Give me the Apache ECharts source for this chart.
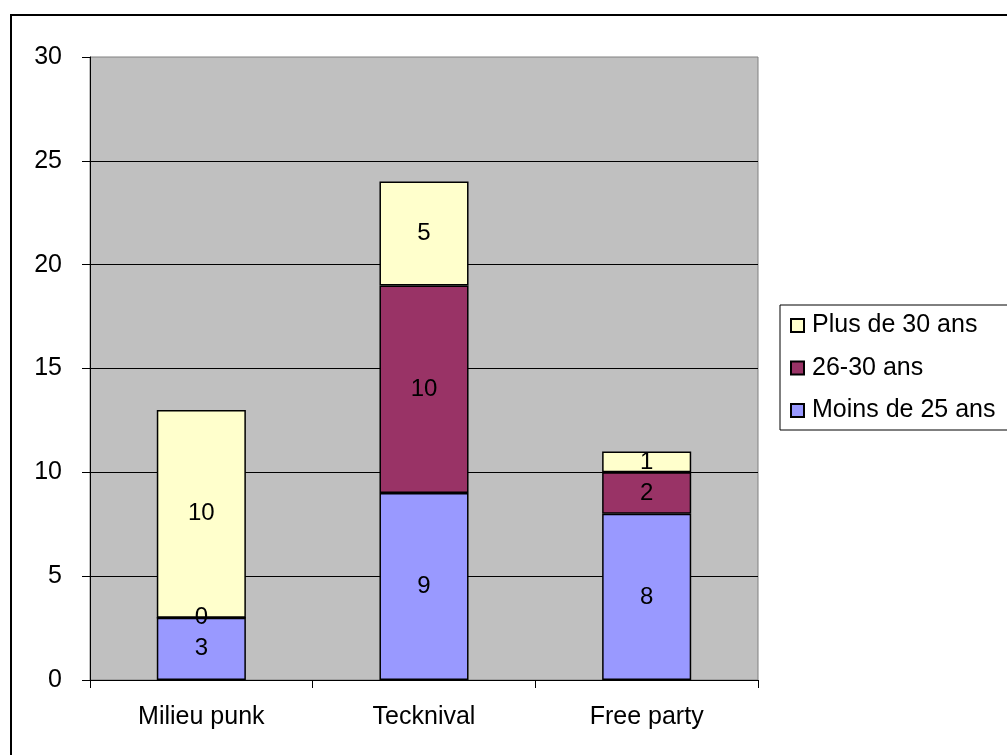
<!DOCTYPE html>
<html>
<head>
<meta charset="utf-8">
<script src="https://cdn.jsdelivr.net/npm/echarts@6/dist/echarts.min.js"></script>
<style>
  body { margin: 0; background: #fff; overflow: hidden; }
  #frame {
    position: absolute; left: 10px; top: 14px;
    width: 1100px; height: 900px;
    border: 2px solid #000;
  }
  #main { position: absolute; left: 0; top: 0; width: 1007px; height: 755px; }
</style>
</head>
<body>
<div id="frame"></div>
<div id="main"></div>
<script>
  var categories = ['Milieu punk', 'Tecknival', 'Free party'];
  var moins25 = [3, 9, 8];
  var ans26_30 = [0, 10, 2];
  var plus30 = [10, 5, 1];
  var legendOrder = ['Plus de 30 ans', '26-30 ans', 'Moins de 25 ans'];

  var font = 'Liberation Sans, Arial, sans-serif';

  function serie(name, data, color) {
    return {
      name: name,
      type: 'bar',
      stack: 'total',
      data: data,
      barCategoryGap: '60%',
      itemStyle: { color: color, borderColor: '#000', borderWidth: 1.5 },
      label: {
        show: true,
        position: 'inside',
        color: '#000',
        fontSize: 24,
        fontFamily: font
      }
    };
  }

  var chart = echarts.init(document.getElementById('main'));
  chart.setOption({
    animation: false,
    textStyle: { fontFamily: font },
    grid: {
      left: 90, top: 57, right: 249, bottom: 75,
      show: true,
      backgroundColor: '#c0c0c0',
      borderColor: '#808080',
      borderWidth: 1
    },
    legend: {
      data: legendOrder,
      orient: 'vertical',
      left: 780,
      top: 305,
      padding: [8, 30, 7, 10],
      itemGap: 17.5,
      itemWidth: 13,
      itemHeight: 13,
      icon: 'rect',
      borderColor: '#000',
      borderWidth: 1,
      textStyle: { fontSize: 25, color: '#000', fontFamily: font, padding: [0, 0, 0, 3] }
    },
    xAxis: {
      type: 'category',
      data: categories,
      axisLine: { lineStyle: { color: '#000', width: 1 } },
      axisTick: { show: true, length: 8, lineStyle: { color: '#000' } },
      axisLabel: { color: '#000', fontSize: 25, margin: 25, fontFamily: font }
    },
    yAxis: {
      type: 'value',
      min: 0,
      max: 30,
      interval: 5,
      axisLine: { show: true, lineStyle: { color: '#000', width: 1 } },
      axisTick: { show: true, length: 8, lineStyle: { color: '#000' } },
      axisLabel: { color: '#000', fontSize: 25, margin: 28, fontFamily: font },
      splitLine: { show: true, showMaxLine: false, lineStyle: { color: '#000', width: 1 } }
    },
    series: [
      serie('Moins de 25 ans', moins25, '#9999ff'),
      serie('26-30 ans', ans26_30, '#993366'),
      serie('Plus de 30 ans', plus30, '#ffffcc')
    ]
  });
</script>
</body>
</html>
